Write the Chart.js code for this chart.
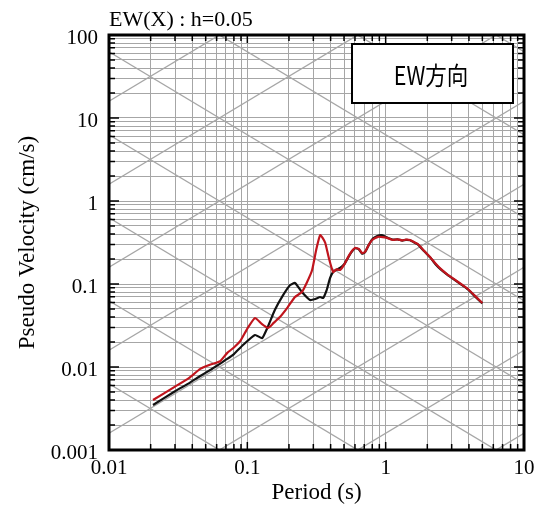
<!DOCTYPE html>
<html>
<head>
<meta charset="utf-8">
<script src="https://cdn.jsdelivr.net/npm/chart.js@4.4.1/dist/chart.umd.min.js"></script>
<style>
  html, body { margin: 0; padding: 0; background: #fff; }
  #wrap { width: 541px; height: 512px; }
</style>
</head>
<body>
<div id="wrap"><canvas id="chart"></canvas></div>
<script>
// 周期 (s) と擬似速度応答 (cm/s)
const redPeriods = [0.0208, 0.03, 0.038, 0.0457, 0.055, 0.0637, 0.0716, 0.08, 0.089, 0.100, 0.1137, 0.127, 0.141,
  0.155, 0.172, 0.195, 0.221, 0.248, 0.27, 0.294, 0.315, 0.336, 0.350, 0.366, 0.39, 0.417, 0.44, 0.468,
  0.50, 0.535, 0.570, 0.601, 0.64, 0.675, 0.708, 0.75, 0.798, 0.881, 0.95, 1.02, 1.13, 1.22, 1.32, 1.40, 1.50,
  1.60, 1.706, 1.9, 2.12, 2.3, 2.5, 2.8, 3.11, 3.5, 3.93, 4.5, 5.0];
const redValues = [0.0040, 0.0058, 0.0074, 0.0095, 0.0108, 0.0118, 0.0148, 0.0172, 0.0206, 0.029, 0.0389, 0.033, 0.0295,
  0.034, 0.040, 0.052, 0.0697, 0.080, 0.105, 0.1476, 0.26, 0.389, 0.36, 0.312, 0.20, 0.1396, 0.15, 0.1476,
  0.17, 0.211, 0.25, 0.272, 0.265, 0.236, 0.243, 0.29, 0.339, 0.37, 0.368, 0.36, 0.339, 0.345, 0.335, 0.342, 0.339,
  0.32, 0.303, 0.25, 0.206, 0.175, 0.152, 0.13, 0.115, 0.100, 0.0871, 0.070, 0.059];

const blackPeriods = [0.0208, 0.03, 0.038, 0.0457, 0.055, 0.0637, 0.0716, 0.08, 0.093, 0.1137, 0.128, 0.140,
  0.158, 0.18, 0.204, 0.221, 0.248, 0.284, 0.31, 0.336, 0.353, 0.375, 0.396, 0.417, 0.44, 0.468,
  0.50, 0.535, 0.570, 0.601, 0.64, 0.675, 0.708, 0.75, 0.798, 0.85, 0.90, 0.951, 1.02, 1.13, 1.22, 1.32, 1.40, 1.50,
  1.60, 1.706, 1.9, 2.12, 2.3, 2.5, 2.8, 3.11, 3.5, 3.93, 4.5, 5.0];
const blackValues = [0.00348, 0.0051, 0.0064, 0.0078, 0.0094, 0.011, 0.0125, 0.0143, 0.0184, 0.0243, 0.0223, 0.030,
  0.0486, 0.072, 0.0973, 0.103, 0.080, 0.0641, 0.066, 0.0697, 0.0678, 0.085, 0.118, 0.1396, 0.148, 0.156,
  0.172, 0.208, 0.245, 0.27, 0.262, 0.232, 0.24, 0.29, 0.345, 0.37, 0.385, 0.385, 0.365, 0.342, 0.345, 0.334, 0.34, 0.337,
  0.318, 0.30, 0.248, 0.205, 0.172, 0.15, 0.129, 0.114, 0.099, 0.086, 0.069, 0.0585];

// 三軸図の斜線：加速度 (cm/s^2) と変位 (cm)
const accelLines = [0.001, 0.01, 0.1, 1, 10, 100, 1000, 10000];
const dispLines = [0.00001, 0.0001, 0.001, 0.01, 0.1, 1, 10, 100];

const periodRange = [0.01, 10];
const velocityRange = [0.001, 100];

const titleText = 'EW(X) : h=0.05';
const legendText = 'EW方向';
const xTitle = 'Period (s)';
const yTitle = 'Pseudo Velocity (cm/s)';

const SERIF = "'Liberation Serif', 'Times New Roman', serif";
const GRID = '#a6a6a6';

function logTicks(min, max) {
  const out = [];
  for (let e = Math.round(Math.log10(min)); e < Math.round(Math.log10(max)); e++) {
    for (let m = 1; m < 10; m++) out.push(Number((m * Math.pow(10, e)).toPrecision(6)));
  }
  out.push(max);
  return out;
}
const isDecade = v => Math.abs(Math.log10(v) - Math.round(Math.log10(v))) < 1e-9;

const toPoints = (xs, ys) => xs.map((t, i) => ({ x: t, y: ys[i] }));

// 斜線（等加速度・等変位）と枠・凡例
const tripartite = {
  id: 'tripartite',
  beforeDatasetsDraw(chart) {
    const { ctx, chartArea: a, scales: { x, y } } = chart;
    const [t1, t2] = periodRange;
    ctx.save();
    ctx.beginPath();
    ctx.rect(a.left, a.top, a.right - a.left, a.bottom - a.top);
    ctx.clip();
    ctx.strokeStyle = GRID;
    ctx.lineWidth = 1.3;
    accelLines.forEach(acc => {
      ctx.beginPath();
      ctx.moveTo(x.getPixelForValue(t1), y.getPixelForValue(acc * t1 / (2 * Math.PI)));
      ctx.lineTo(x.getPixelForValue(t2), y.getPixelForValue(acc * t2 / (2 * Math.PI)));
      ctx.stroke();
    });
    dispLines.forEach(d => {
      ctx.beginPath();
      ctx.moveTo(x.getPixelForValue(t1), y.getPixelForValue(2 * Math.PI * d / t1));
      ctx.lineTo(x.getPixelForValue(t2), y.getPixelForValue(2 * Math.PI * d / t2));
      ctx.stroke();
    });
    ctx.restore();
  },
  afterDraw(chart) {
    const { ctx, chartArea: a, scales: { x, y } } = chart;
    ctx.save();
    // 内向きの目盛り
    ctx.strokeStyle = '#000';
    ctx.lineWidth = 1.5;
    x.ticks.forEach(t => {
      const px = x.getPixelForValue(t.value);
      const len = isDecade(t.value) ? 8 : 6;
      ctx.beginPath();
      ctx.moveTo(px, a.bottom); ctx.lineTo(px, a.bottom - len);
      ctx.moveTo(px, a.top); ctx.lineTo(px, a.top + len);
      ctx.stroke();
    });
    y.ticks.forEach(t => {
      const py = y.getPixelForValue(t.value);
      const len = isDecade(t.value) ? 10 : 6;
      ctx.beginPath();
      ctx.moveTo(a.left, py); ctx.lineTo(a.left + len, py);
      ctx.moveTo(a.right, py); ctx.lineTo(a.right - len, py);
      ctx.stroke();
    });
    // 枠
    ctx.lineWidth = 3;
    ctx.strokeRect(a.left, a.top, a.right - a.left, a.bottom - a.top);

    // 凡例ボックス
    ctx.fillStyle = '#fff';
    ctx.fillRect(352, 44, 161, 59);
    ctx.lineWidth = 2;
    ctx.strokeRect(352, 44, 161, 59);
    ctx.fillStyle = '#000';
    ctx.translate(431, 75);
    ctx.scale(0.86, 1);
    ctx.font = "25px 'Noto Sans CJK JP', sans-serif";
    ctx.textAlign = 'center';
    ctx.textBaseline = 'middle';
    ctx.fillText(legendText, 0, 0);
    ctx.restore();

    // タイトル
    ctx.save();
    ctx.fillStyle = '#000';
    ctx.font = '22px ' + SERIF;
    ctx.textAlign = 'left';
    ctx.textBaseline = 'alphabetic';
    ctx.fillText(titleText, 109, 26);
    ctx.restore();
  }
};

new Chart(document.getElementById('chart'), {
  type: 'line',
  data: {
    datasets: [
      {
        label: 'red',
        data: toPoints(redPeriods, redValues),
        borderColor: '#c0151d',
        borderWidth: 2.2,
        pointRadius: 0,
        tension: 0.15,
        fill: false
      },
      {
        label: 'black',
        data: toPoints(blackPeriods, blackValues),
        borderColor: '#111',
        borderWidth: 2.2,
        pointRadius: 0,
        tension: 0.15,
        fill: false
      }
    ]
  },
  options: {
    responsive: true,
    maintainAspectRatio: false,
    animation: false,
    parsing: false,
    layout: { padding: { top: 35, right: 17, left: 0, bottom: 0 } },
    plugins: { legend: { display: false }, tooltip: { enabled: false }, title: { display: false } },
    scales: {
      x: {
        type: 'logarithmic',
        min: periodRange[0],
        max: periodRange[1],
        afterBuildTicks: s => { s.ticks = logTicks(periodRange[0], periodRange[1]).map(v => ({ value: v })); },
        afterFit: s => { s.height = 62; },
        grid: { color: GRID, lineWidth: 1, drawTicks: false },
        border: { display: false },
        ticks: {
          autoSkip: false, maxRotation: 0, padding: 6, color: '#000',
          font: { family: SERIF, size: 21 },
          callback: v => isDecade(v) ? String(v) : ''
        },
        title: { display: true, text: xTitle, color: '#000', font: { family: SERIF, size: 23 }, padding: { top: 0, bottom: 5 } }
      },
      y: {
        type: 'logarithmic',
        min: velocityRange[0],
        max: velocityRange[1],
        afterBuildTicks: s => { s.ticks = logTicks(velocityRange[0], velocityRange[1]).map(v => ({ value: v })); },
        afterFit: s => { s.width = 109; },
        grid: { color: GRID, lineWidth: 1, drawTicks: false },
        border: { display: false },
        ticks: {
          autoSkip: false, padding: 11, labelOffset: 3, color: '#000',
          font: { family: SERIF, size: 21 },
          callback: v => isDecade(v) ? String(v) : ''
        },
        title: { display: true, text: yTitle, color: '#000', font: { family: SERIF, size: 23 }, padding: { top: 14, bottom: 0 } }
      }
    }
  },
  plugins: [tripartite]
});
</script>
</body>
</html>
